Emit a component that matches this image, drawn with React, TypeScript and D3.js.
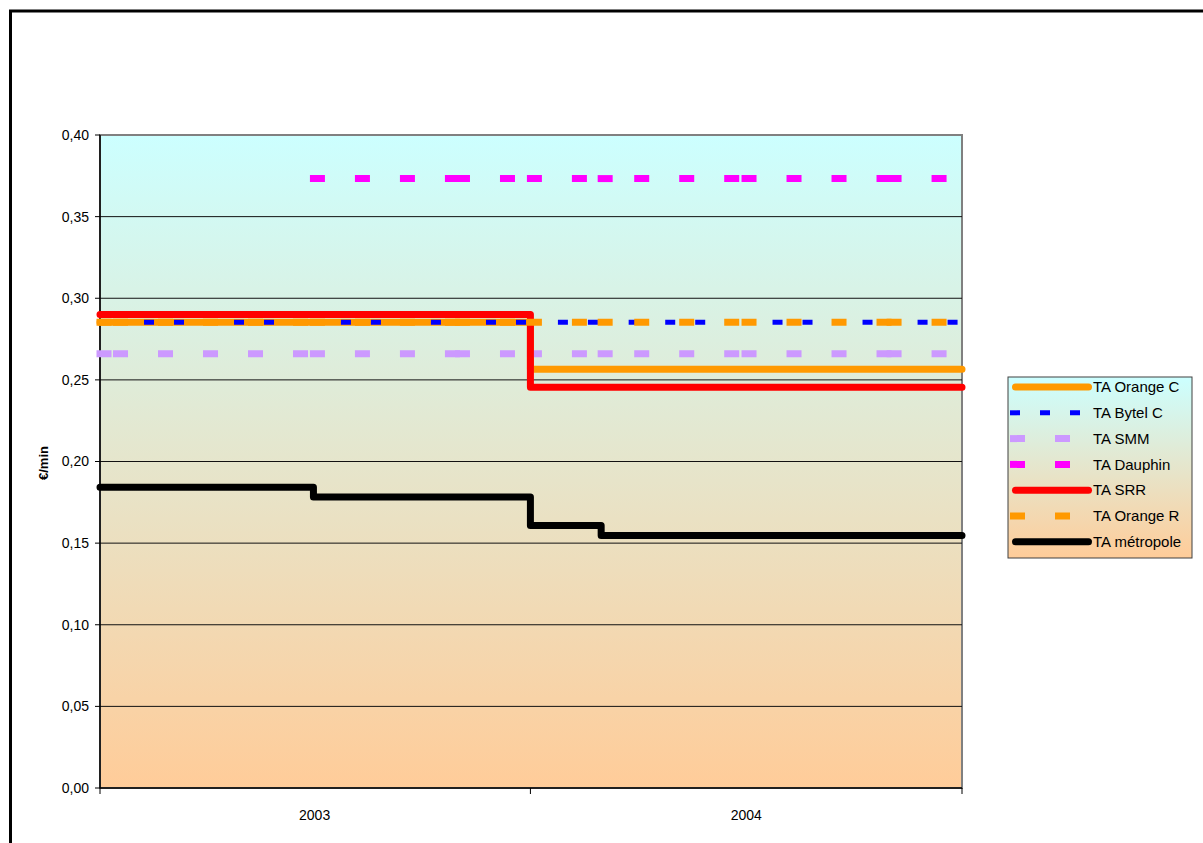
import React from "react";
import * as d3 from "d3";

// ---- data ----
const dates = [
  "2003-01-01", "2003-01-15", "2003-07-01", "2003-11-01", "2004-01-01",
  "2004-03-01", "2004-04-01", "2004-07-01", "2004-11-01", "2005-01-01",
];
const orangeC = [0.2853, 0.2853, 0.2853, 0.2853, 0.2565, 0.2565, 0.2565, 0.2565, 0.2565, 0.2565];
const bytelC = [0.2853, 0.2853, 0.2853, 0.2853, 0.2853, 0.2853, 0.2853, 0.2853, 0.2853, 0.2853];
const smm = [0.266, 0.266, 0.266, 0.266, 0.266, 0.266, 0.266, 0.266, 0.266, 0.266];
const dauphin = [null, null, 0.3733, 0.3733, 0.3733, 0.3733, 0.3733, 0.3733, 0.3733, 0.3733];
const srr = [0.29, 0.29, 0.29, 0.29, 0.2455, 0.2455, 0.2455, 0.2455, 0.2455, 0.2455];
const orangeR = [0.2853, 0.2853, 0.2853, 0.2853, 0.2853, 0.2853, 0.2853, 0.2853, 0.2853, 0.2853];
const metropole = [0.1842, 0.1842, 0.1782, 0.1782, 0.1608, 0.1547, 0.1547, 0.1547, 0.1547, 0.1547];
const seriesNames = ["TA Orange C", "TA Bytel C", "TA SMM", "TA Dauphin", "TA SRR", "TA Orange R", "TA métropole"];
const yTicks = [0, 0.05, 0.1, 0.15, 0.2, 0.25, 0.3, 0.35, 0.4];
const xTickDates = ["2003-01-01", "2004-01-01", "2005-01-01"];
const xLabels = ["2003", "2004"];
const xLabelDates = ["2003-07-02", "2004-07-02"];
const yTitle = "€/min";

type Style = { color: string; width: number; dash: string | null };
const styles: Style[] = [
  { color: "#FF9900", width: 7, dash: null },
  { color: "#0000FF", width: 5, dash: "5,25" },
  { color: "#CC99FF", width: 7, dash: "8,37" },
  { color: "#FF00FF", width: 7, dash: "8,37" },
  { color: "#FF0000", width: 7, dash: null },
  { color: "#FF9900", width: 7, dash: "8,37" },
  { color: "#000000", width: 7, dash: null },
];
const seriesValues = [orangeC, bytelC, smm, dauphin, srr, orangeR, metropole];

const FONT = "'Liberation Sans', Arial, sans-serif";

export default function App() {
  const parse = d3.utcParse("%Y-%m-%d");
  const dts = dates.map((d) => parse(d) as Date);
  const x = d3.scaleUtc().domain([dts[0], dts[dts.length - 1]]).range([100, 962]);
  const y = d3.scaleLinear().domain([0, 0.4]).range([788, 135]);
  const fmt = (v: number) => d3.format(".2f")(v).replace(".", ",");

  const stepLine = d3
    .line<[Date, number | null]>()
    .defined((d) => d[1] != null)
    .x((d) => x(d[0]))
    .y((d) => y(d[1] as number))
    .curve(d3.curveStepAfter);

  const renderSeries = (vals: (number | null)[], st: Style, i: number) => {
    if (st.dash == null) {
      const pts = dts.map((d, k) => [d, vals[k]] as [Date, number | null]);
      return (
        <path
          key={i}
          d={stepLine(pts) || ""}
          fill="none"
          stroke={st.color}
          strokeWidth={st.width}
          strokeLinecap="round"
          strokeLinejoin="round"
        />
      );
    }
    const segs = [];
    for (let k = 0; k < dts.length - 1; k++) {
      const v = vals[k];
      if (v == null) continue;
      segs.push(
        <line
          key={k}
          x1={x(dts[k])}
          x2={x(dts[k + 1])}
          y1={y(v)}
          y2={y(v)}
          stroke={st.color}
          strokeWidth={st.width}
          strokeDasharray={st.dash}
          strokeLinecap="square"
        />
      );
    }
    return <g key={i}>{segs}</g>;
  };

  const legendX = 1008;
  const legendY = 377;
  const rowH = 25.8;

  return (
    <svg
      width={1203}
      height={843}
      style={{ position: "absolute", left: 0, top: 0, background: "#fff" }}
      fontFamily={FONT}
    >
      <defs>
        <linearGradient id="bg" x1="0" y1="0" x2="0" y2="1">
          <stop offset="0" stopColor="#CCFFFF" />
          <stop offset="1" stopColor="#FFCC99" />
        </linearGradient>
      </defs>
      {/* outer frame */}
      <rect x={10.5} y={11} width={1300} height={900} fill="none" stroke="#000" strokeWidth={3} />

      {/* plot area */}
      <rect x={100} y={135} width={862} height={653} fill="url(#bg)" stroke="#808080" strokeWidth={2} />
      {yTicks.map((t) => (
        <g key={t}>
          {t > 0 && t < 0.4 && (
            <line x1={100} x2={962} y1={y(t)} y2={y(t)} stroke="#111" strokeWidth={1} />
          )}
          <line x1={95} x2={100} y1={y(t)} y2={y(t)} stroke="#000" strokeWidth={1} />
          <text x={89} y={y(t)} dy="0.35em" textAnchor="end" fontSize={14} fill="#000">
            {fmt(t)}
          </text>
        </g>
      ))}
      <line x1={100} x2={100} y1={135} y2={788} stroke="#000" strokeWidth={1.5} />
      <line x1={100} x2={962} y1={788} y2={788} stroke="#000" strokeWidth={1.5} />
      {xTickDates.map((d) => {
        const xx = x(parse(d) as Date);
        return <line key={d} x1={xx} x2={xx} y1={788} y2={794} stroke="#000" strokeWidth={1} />;
      })}
      {xLabels.map((l, i) => (
        <text key={l} x={x(parse(xLabelDates[i]) as Date)} y={815} dy="0.35em" textAnchor="middle" fontSize={14}>
          {l}
        </text>
      ))}
      <text
        transform="translate(43,463) rotate(-90)"
        textAnchor="middle"
        dy="0.35em"
        fontSize={13}
        fontWeight="bold"
      >
        {yTitle}
      </text>

      {/* series */}
      {seriesValues.map((v, i) => renderSeries(v, styles[i], i))}

      {/* legend */}
      <rect x={legendX} y={legendY} width={184} height={181} fill="url(#bg)" stroke="#404040" strokeWidth={1} />
      {seriesNames.map((n, i) => {
        const st = styles[i];
        const cy = legendY + 10 + i * rowH;
        return (
          <g key={n}>
            {st.dash == null ? (
              <line x1={1015.5} x2={1088.5} y1={cy} y2={cy} stroke={st.color} strokeWidth={st.width} strokeLinecap="round" />
            ) : (
              <line
                x1={1010 + st.width / 2}
                x2={1090}
                y1={cy}
                y2={cy}
                stroke={st.color}
                strokeWidth={st.width}
                strokeDasharray={st.dash}
                strokeLinecap="square"
              />
            )}
            <text x={1093} y={cy} dy="0.35em" fontSize={15} fill="#000">
              {n}
            </text>
          </g>
        );
      })}
    </svg>
  );
}
